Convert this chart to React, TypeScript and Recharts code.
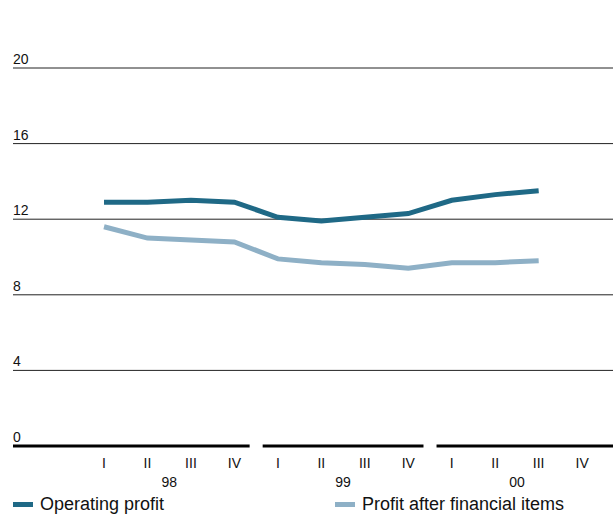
import { LineChart, Line, XAxis, YAxis, ReferenceLine, Legend } from "recharts";

const quarters = ["I", "II", "III", "IV", "I", "II", "III", "IV", "I", "II", "III", "IV"];
const years = ["98", "99", "00"];
const operatingProfit = [12.9, 12.9, 13.0, 12.9, 12.1, 11.9, 12.1, 12.3, 13.0, 13.3, 13.5, null];
const profitAfterFinancial = [11.6, 11.0, 10.9, 10.8, 9.9, 9.7, 9.6, 9.4, 9.7, 9.7, 9.8, null];
const yTicks = [0, 4, 8, 12, 16, 20];

const data = quarters.map((q, i) => ({
  idx: i,
  q,
  op: operatingProfit[i],
  pafi: profitAfterFinancial[i],
}));

const X_MIN = -2.094;
const X_MAX = 11.71;
const FONT = "'Liberation Sans', Arial, Helvetica, sans-serif";

const DARK = "#1f6986";
const LIGHT = "#8eb0c6";

// zero line is broken between year groups
const zeroSegments = [
  [X_MIN, 3.35],
  [3.65, 7.35],
  [7.65, X_MAX],
];

// value label sits just above its gridline, at the left edge
const GridLabel = (props: any) => {
  const { viewBox, text } = props;
  return (
    <text x={viewBox.x} y={viewBox.y - 4} fill="#111" fontSize={14} fontFamily={FONT}>
      {text}
    </text>
  );
};

const LegendContent = () => (
  <div style={{ display: "flex", height: 27, fontFamily: FONT, fontSize: 18, color: "#111", alignItems: "flex-end" }}>
    <div style={{ display: "flex", alignItems: "center", width: 322 }}>
      <span style={{ display: "inline-block", width: 20, height: 5, background: DARK, marginRight: 7 }} />
      Operating profit
    </div>
    <div style={{ display: "flex", alignItems: "center" }}>
      <span style={{ display: "inline-block", width: 20, height: 5, background: LIGHT, marginRight: 7 }} />
      Profit after financial items
    </div>
  </div>
);

export default function App() {
  return (
    <div style={{ position: "absolute", left: 0, top: 0, background: "#fff" }}>
      <LineChart
        width={613}
        height={515}
        data={data}
        margin={{ top: 68, right: 0, left: 13, bottom: 0 }}
      >
        <XAxis
          xAxisId="q"
          dataKey="idx"
          type="number"
          domain={[X_MIN, X_MAX]}
          ticks={quarters.map((_, i) => i)}
          tickFormatter={(v: number) => quarters[v]}
          axisLine={false}
          tickLine={false}
          tickMargin={6}
          height={24}
          tick={{ fill: "#111", fontSize: 14, fontFamily: FONT }}
          interval={0}
        />
        <XAxis
          xAxisId="y"
          dataKey="idx"
          type="number"
          domain={[X_MIN, X_MAX]}
          ticks={[1.5, 5.5, 9.5]}
          tickFormatter={(v: number) => years[Math.floor(v / 4)]}
          axisLine={false}
          tickLine={false}
          tickMargin={1}
          height={18}
          tick={{ fill: "#111", fontSize: 14, fontFamily: FONT }}
          interval={0}
        />
        <YAxis domain={[0, 20]} ticks={yTicks} hide />
        {yTicks.filter((t) => t > 0).map((t) => (
          <ReferenceLine
            key={t}
            xAxisId="q"
            y={t}
            stroke="#222"
            strokeWidth={1}
            label={<GridLabel text={String(t)} />}
          />
        ))}
        {zeroSegments.map((s, i) => (
          <ReferenceLine
            key={"z" + i}
            xAxisId="q"
            segment={[{ x: s[0], y: 0 }, { x: s[1], y: 0 }]}
            stroke="#000"
            strokeWidth={3}
            label={i === 0 ? <GridLabel text="0" /> : undefined}
          />
        ))}
        <Line
          xAxisId="q"
          dataKey="op"
          name="Operating profit"
          stroke={DARK}
          strokeWidth={5}
          dot={false}
          isAnimationActive={false}
        />
        <Line
          xAxisId="q"
          dataKey="pafi"
          name="Profit after financial items"
          stroke={LIGHT}
          strokeWidth={5}
          dot={false}
          isAnimationActive={false}
        />
        <Legend verticalAlign="bottom" height={27} content={<LegendContent />} />
      </LineChart>
    </div>
  );
}
